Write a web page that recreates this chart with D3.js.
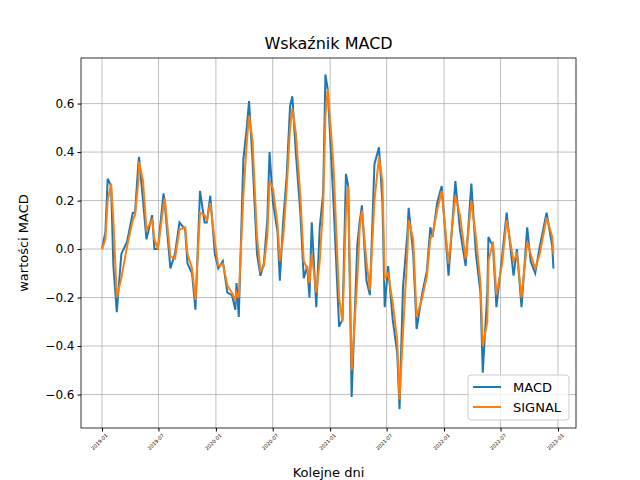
<!DOCTYPE html>
<html><head><meta charset="utf-8">
<script src="https://cdn.jsdelivr.net/npm/d3@7"></script>
<style>body{margin:0;background:#fff}text{font-family:"DejaVu Sans",sans-serif}</style>
</head><body><div id="chart"></div>
<script>
// years since 2019-01-01
const yearsIn = [0,.03,.05,.08,.10,.13,.17,.22,.27,.29,.32,.325,.36,.39,.44,.46,.49,.54,.55,.60,.64,.68,.73,.75,.79,.82,.86,.90,.92,.95,.99,
1.02,1.06,1.10,1.14,1.17,1.18,1.20,1.24,1.27,1.29,1.32,1.36,1.39,1.42,1.45,1.47,1.50,1.54,1.56,1.59,1.62,1.65,1.67,1.70,1.74,1.77,1.80,1.82,1.84,1.88,1.91,1.94,1.96,1.98,
2.03,2.08,2.11,2.14,2.16,2.19,2.24,2.26,2.28,2.32,2.35,2.39,2.43,2.46,2.48,2.51,2.55,2.59,2.61,2.64,2.68,2.69,2.73,2.76,2.81,2.85,2.88,2.90,2.94,2.98,
3.04,3.10,3.14,3.19,3.24,3.28,3.32,3.34,3.38,3.39,3.43,3.46,3.51,3.55,3.61,3.64,3.68,3.73,3.76,3.80,3.84,3.90,3.95,3.96];
const macd = [0,.07,.29,.26,-.07,-.26,-.02,.03,.15,.15,.36,.38,.20,.04,.14,0,0,.23,.19,-.08,-.02,.11,.08,-.06,-.10,-.25,.24,.11,.11,.22,-.02,
-.08,-.05,-.18,-.19,-.25,-.14,-.28,.37,.50,.61,.37,-.02,-.11,-.06,.12,.40,.19,.07,-.13,.12,.30,.59,.63,.40,.15,-.12,-.07,-.20,.11,-.24,.09,.23,.72,.66,
.20,-.32,-.29,.31,.26,-.61,.02,.11,.18,-.13,-.19,.35,.42,.19,-.24,-.07,-.29,-.43,-.66,-.16,.07,.17,-.02,-.33,-.18,-.09,.09,.05,.19,.26,
-.11,.28,.08,-.07,.27,-.02,-.18,-.51,-.18,.05,.01,-.24,-.03,.15,-.11,0,-.24,.09,-.05,-.10,.01,.15,.01,-.08];
const signal = [0,.04,.20,.27,.12,-.20,-.12,.01,.12,.14,.28,.36,.28,.08,.12,.04,0,.18,.21,-.03,-.04,.08,.09,-.02,-.08,-.21,.15,.14,.12,.19,.03,
-.07,-.06,-.15,-.18,-.21,-.18,-.20,.22,.44,.55,.45,.05,-.09,-.07,.05,.28,.25,.10,-.05,.05,.25,.50,.58,.48,.22,-.05,-.08,-.14,-.02,-.18,-.05,.18,.55,.66,
.35,-.20,-.30,.15,.26,-.50,-.12,.08,.16,-.05,-.17,.20,.38,.28,-.12,-.10,-.22,-.38,-.62,-.35,0,.12,.04,-.28,-.20,-.11,.04,.06,.16,.24,
-.06,.22,.14,-.04,.20,.05,-.14,-.40,-.30,-.05,.03,-.19,-.06,.12,-.05,-.02,-.20,.03,-.02,-.08,-.02,.13,.05,-.02];
const yTicks = [-0.6,-0.4,-0.2,0,0.2,0.4,0.6];

const W=640,H=480,L=81,R=576,T=58,B=428;
const start = new Date(2019,0,1);
const toDate = t => new Date(start.getTime()+t*365.25*864e5);
const svg = d3.select("#chart").append("svg").attr("width",W).attr("height",H);
const x = d3.scaleTime().domain([toDate(-0.184),toDate(4.158)]).range([L,R]);
const y = d3.scaleLinear().domain([-0.738,0.788]).range([B,T]);
const xt = d3.timeMonth.every(6).range(new Date(2019,0,1), new Date(2023,1,1));

const g = svg.append("g");
g.selectAll(".vg").data(xt).join("line").attr("x1",d=>x(d)).attr("x2",d=>x(d)).attr("y1",T).attr("y2",B).attr("stroke","#b0b0b0").attr("stroke-width",0.8);
g.selectAll(".hg").data(yTicks).join("line").attr("y1",d=>y(d)).attr("y2",d=>y(d)).attr("x1",L).attr("x2",R).attr("stroke","#b0b0b0").attr("stroke-width",0.8);

const line = arr => d3.line().x((d,i)=>x(toDate(yearsIn[i]))).y(d=>y(d))(arr);
svg.append("path").attr("d",line(macd)).attr("fill","none").attr("stroke","#1f77b4").attr("stroke-width",2);
svg.append("path").attr("d",line(signal)).attr("fill","none").attr("stroke","#ff7f0e").attr("stroke-width",2);

svg.append("rect").attr("x",L).attr("y",T).attr("width",R-L).attr("height",B-T).attr("fill","none").attr("stroke","#000").attr("stroke-width",0.8);

const fmt = d3.timeFormat("%Y-%m");
const xa = svg.append("g").attr("transform",`translate(0,${B})`).call(d3.axisBottom(x).tickValues(xt).tickFormat(fmt).tickSize(3.5));
xa.select(".domain").remove();
xa.selectAll("text").attr("font-size",5).attr("text-anchor","end").attr("dx","-0.3em").attr("dy","0.6em").attr("transform","rotate(-45)");
const ya = svg.append("g").attr("transform",`translate(${L},0)`).call(d3.axisLeft(y).tickValues(yTicks).tickFormat(d3.format(".1f")).tickSize(3.5));
ya.select(".domain").remove();
ya.selectAll("text").attr("font-size",12).attr("fill","#000").text(d=>d3.format(".1f")(d).replace("-","−"));
svg.selectAll(".tick line").attr("stroke","#000");

svg.append("text").attr("x",(L+R)/2).attr("y",49).attr("text-anchor","middle").attr("font-size",16).text("Wskaźnik MACD");
svg.append("text").attr("x",(L+R)/2).attr("y",477).attr("text-anchor","middle").attr("font-size",13).text("Kolejne dni");
svg.append("text").attr("transform",`translate(28,${(T+B)/2}) rotate(-90)`).attr("text-anchor","middle").attr("font-size",13).text("wartości MACD");

const lg = svg.append("g").attr("transform","translate(468,375)");
lg.append("rect").attr("width",101).attr("height",45).attr("rx",3).attr("fill","#fff").attr("fill-opacity",0.8).attr("stroke","#ccc");
[["MACD","#1f77b4"],["SIGNAL","#ff7f0e"]].forEach(([n,c],i)=>{
  lg.append("line").attr("x1",5).attr("x2",33).attr("y1",12+i*20).attr("y2",12+i*20).attr("stroke",c).attr("stroke-width",2);
  lg.append("text").attr("x",45).attr("y",17+i*20).attr("font-size",13).text(n);
});
</script></body></html>
